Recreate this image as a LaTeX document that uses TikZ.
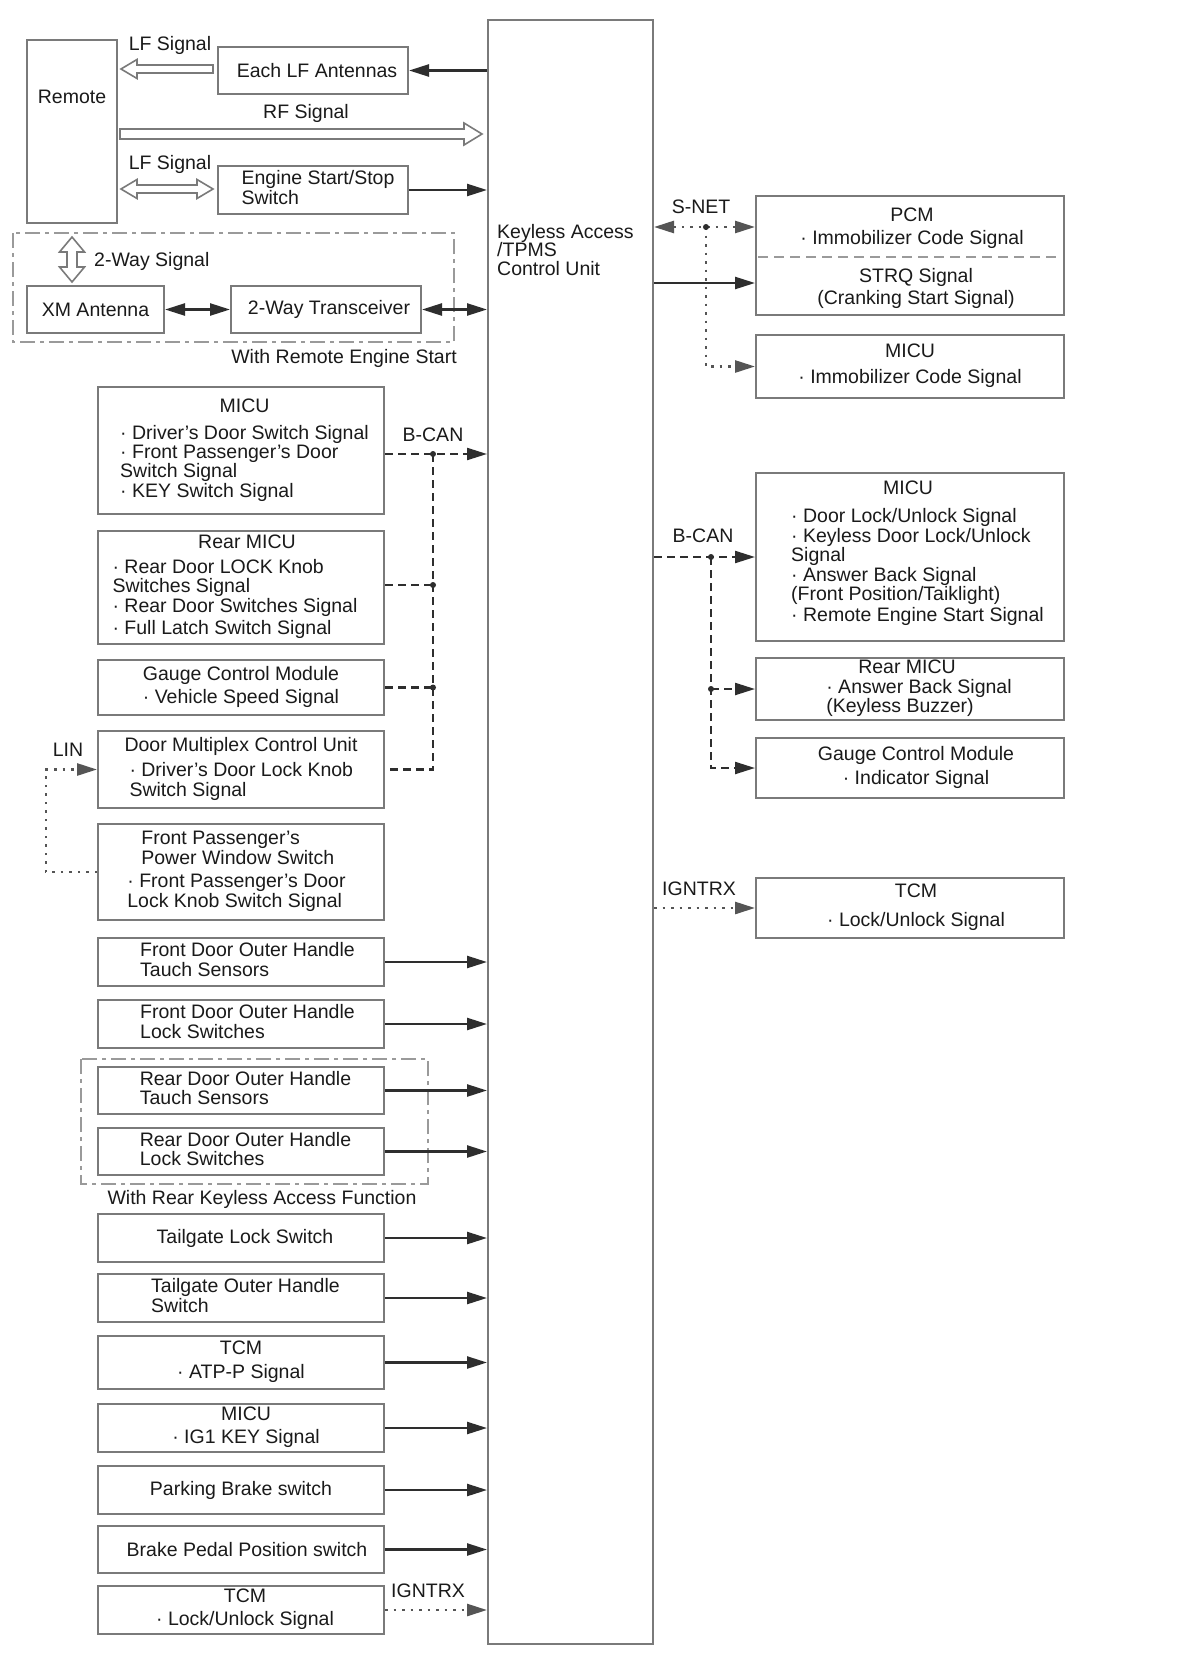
\documentclass[tikz,border=0pt]{standalone}
\usepackage{fontspec}
\setmainfont{Liberation Sans}
\usetikzlibrary{arrows.meta,calc}
\definecolor{bord}{HTML}{7A7A7A}
\definecolor{ln}{HTML}{2E2E2E}
\definecolor{dotc}{HTML}{555555}
\definecolor{dd}{HTML}{9A9A9A}
\definecolor{txt}{HTML}{1A1A1A}
\newcommand{\myLt}[1]{\begin{tabular}{@{}l@{}}#1\end{tabular}}
\newcommand{\myCt}[1]{\begin{tabular}{@{}c@{}}#1\end{tabular}}
\newcommand{\myHd}[1]{\multicolumn{1}{@{}c@{}}{#1}}
\renewcommand{\arraystretch}{0.88}
\tikzset{
  mytri/.tip={Triangle[length=20pt,width=12pt]},
  box/.style={draw=bord, line width=2pt, fill=white, anchor=north west, inner sep=0pt, align=center},
  lbl/.style={inner sep=0pt},
  arr/.style={draw=ln, line width=2.4pt, -mytri},
  barr/.style={draw=ln, line width=2.4pt, mytri-mytri},
  bcan/.style={draw=ln, line width=2.2pt, dash pattern=on 8pt off 5pt},
  sdot/.style={draw=dotc, line width=2.6pt, dash pattern=on 2.5pt off 6pt},
  hol/.style={draw=bord, line width=1.6pt, fill=white, line join=miter},
  grp/.style={draw=dd, line width=2pt, dash pattern=on 15pt off 5pt on 4pt off 5pt},
  divl/.style={draw=dd, line width=2pt, dash pattern=on 10pt off 6pt},
  jdot/.style={fill=ln, draw=none}
}
\begin{document}
\begin{tikzpicture}[x=1pt, y=-1pt, every node/.style={font=\fontsize{19.5}{20}\selectfont, text=txt}]
\useasboundingbox (0,0) rectangle (1200,1656);
\fill[white] (0,0) rectangle (1200,1656);

% central unit
\node[box, minimum width=165, minimum height=1624] (cu) at (487,19) {};
\node[lbl, anchor=north west] (cut) at (497,224) {\myLt{Keyless Access\\[-1pt]/TPMS\\[-1pt]Control Unit}};

% top-left group
\node[box, minimum width=90, minimum height=183] (remote) at (26,39) {};
\node[lbl] (remotet) at (72,97) {Remote};
\node[box, minimum width=190, minimum height=47] (eachlf) at (217,46) {\hspace*{8pt}Each LF Antennas};
\node[box, minimum width=190, minimum height=48] (engine) at (217,165) {\hspace*{10pt}\myLt{Engine Start/Stop\\Switch}};
\draw[grp] (13,233) rectangle (454,342);
\node[box, minimum width=137, minimum height=47] (xm) at (26,285) {XM Antenna};
\node[box, minimum width=190, minimum height=47] (trx) at (230,285) {\hspace*{6pt}2-Way Transceiver};

\node[lbl, anchor=base] (lf1) at (170,51) {LF Signal};
\node[lbl, anchor=base] (rf) at (306,119) {RF Signal};
\node[lbl, anchor=base] (lf2) at (170,170) {LF Signal};
\node[lbl, anchor=base west] (tw) at (94,266) {2-Way Signal};
\node[lbl, anchor=base] (wres) at (344,363) {With Remote Engine Start};

% hollow arrows
\draw[hol] (120,129) -- (464,129) -- (464,123) -- (482,134) -- (464,145) -- (464,139) -- (120,139) -- cycle;
\draw[hol] (213,65) -- (137,65) -- (137,59.5) -- (121,69) -- (137,78.5) -- (137,73) -- (213,73) -- cycle;
\draw[hol] (121,189) -- (137,179.5) -- (137,185) -- (197,185) -- (197,179.5) -- (213,189) -- (197,198.5) -- (197,193) -- (137,193) -- (137,198.5) -- cycle;
\draw[hol] (72,237) -- (84.5,252) -- (77,252) -- (77,267) -- (84.5,267) -- (72,282) -- (59.5,267) -- (67,267) -- (67,252) -- (59.5,252) -- cycle;

\draw[arr] (cu.west |- eachlf.east) -- (eachlf.east);
\draw[arr] (engine.east) -- (engine.east -| cu.west);
\draw[barr] (xm.east) -- (trx.west);
\draw[barr] (trx.east) -- (trx.east -| cu.west);

% right side
\node[box, minimum width=308, minimum height=119] (pcm) at (755,195) {};
\node[lbl] (pcmt) at (912,229) {\myCt{PCM\\[3pt]· Immobilizer Code Signal}};
\node[lbl] (strqt) at (916,289) {\myCt{STRQ Signal\\[2pt](Cranking Start Signal)}};
\draw[divl] (758,257) -- (1060,257);
\node[box, minimum width=308, minimum height=63] (micu1r) at (755,334) {\myCt{MICU\\[7pt]· Immobilizer Code Signal}};
\node[box, minimum width=308, minimum height=168] (micu2r) at (755,472) {\hspace*{15pt}\myLt{\myHd{MICU\hspace*{19pt}}\\[9pt]· Door Lock/Unlock Signal\\· Keyless Door Lock/Unlock\\Signal\\· Answer Back Signal\\(Front Position/Taiklight)\\[2pt]· Remote Engine Start Signal\\[6pt]}};
\node[box, minimum width=308, minimum height=62] (rmicur) at (755,657) {\hspace*{18pt}\myLt{\myHd{Rear MICU\hspace*{24pt}}\\· Answer Back Signal\\(Keyless Buzzer)}};
\node[box, minimum width=308, minimum height=60] (gcmr) at (755,737) {\hspace*{12pt}\myCt{Gauge Control Module\\[5pt]· Indicator Signal}};
\node[box, minimum width=308, minimum height=60] (tcmr) at (755,877) {\hspace*{12pt}\myCt{TCM\\[9pt]· Lock/Unlock Signal}};

\node[lbl, anchor=base] (snet) at (701,213) {S-NET};
\node[lbl, anchor=base] (bcanr) at (703,542) {B-CAN};
\node[lbl, anchor=base] (ignr) at (699,895) {IGNTRX};

\coordinate (sn) at (706,227);
\coordinate (sq) at (700,283);
\coordinate (br) at (711,0);
\draw[sdot, mytri-mytri] (sn -| cu.east) -- (sn -| pcm.west);
\draw[sdot, -mytri] (sn) -- (sn |- micu1r.west) -- (micu1r.west);
\fill[jdot] (sn) circle (3);
\draw[arr] (sq -| cu.east) -- (sq -| pcm.west);
\draw[bcan, -mytri] (micu2r.west -| cu.east) -- (micu2r.west);
\draw[bcan, -mytri] (micu2r.west -| br) -- (gcmr.west -| br) -- (gcmr.west);
\draw[bcan, -mytri] (rmicur.west -| br) -- (rmicur.west);
\fill[jdot] (micu2r.west -| br) circle (3);
\fill[jdot] (rmicur.west -| br) circle (3);
\draw[sdot, -mytri] (tcmr.west -| cu.east) -- (tcmr.west);

% left column
\node[box, minimum width=286, minimum height=127] (micu1l) at (97,386) {\hspace*{7pt}\myLt{\myHd{MICU}\\[8pt]· Driver’s Door Switch Signal\\· Front Passenger’s Door\\Switch Signal\\· KEY Switch Signal}};
\node[box, minimum width=286, minimum height=113] (rmicul) at (97,530) {\myLt{\myHd{\hspace*{24pt}Rear MICU}\\[5pt]· Rear Door LOCK Knob\\Switches Signal\\· Rear Door Switches Signal\\[3pt]· Full Latch Switch Signal}\hspace*{12pt}};
\node[box, minimum width=286, minimum height=55] (gcml) at (97,659) {\myCt{Gauge Control Module\\[4pt]· Vehicle Speed Signal}};
\node[box, minimum width=286, minimum height=77] (dmcu) at (97,730) {\myLt{\myHd{Door Multiplex Control Unit}\\[6pt]\hspace*{5pt}· Driver’s Door Lock Knob\\\hspace*{5pt}Switch Signal}};
\node[box, minimum width=286, minimum height=96] (fpws) at (97,823) {\myLt{\hspace*{14pt}Front Passenger’s\\\hspace*{14pt}Power Window Switch\\[5pt]· Front Passenger’s Door\\Lock Knob Switch Signal}\hspace*{9pt}};
\node[box, minimum width=286, minimum height=48] (fdts) at (97,937) {\hspace*{13pt}\myLt{Front Door Outer Handle\\Tauch Sensors}};
\node[box, minimum width=286, minimum height=48] (fdls) at (97,999) {\hspace*{13pt}\myLt{Front Door Outer Handle\\Lock Switches}};
\draw[grp] (81,1059) rectangle (428,1184);
\node[box, minimum width=286, minimum height=47] (rdts) at (97,1066) {\hspace*{9pt}\myLt{Rear Door Outer Handle\\Tauch Sensors}};
\node[box, minimum width=286, minimum height=47] (rdls) at (97,1127) {\hspace*{9pt}\myLt{Rear Door Outer Handle\\Lock Switches}};
\node[lbl, anchor=base] (wrk) at (262,1204) {With Rear Keyless Access Function};
\node[box, minimum width=286, minimum height=48] (tls) at (97,1213) {\hspace*{8pt}Tailgate Lock Switch};
\node[box, minimum width=286, minimum height=48] (tohs) at (97,1273) {\hspace*{9pt}\myLt{Tailgate Outer Handle\\Switch}};
\node[box, minimum width=286, minimum height=53] (tcml) at (97,1335) {\myCt{TCM\\[5pt]· ATP-P Signal}};
\node[box, minimum width=286, minimum height=48] (micul2) at (97,1403) {\hspace*{10pt}\myCt{MICU\\[4pt]· IG1 KEY Signal}};
\node[box, minimum width=286, minimum height=48] (pbs) at (97,1465) {Parking Brake switch};
\node[box, minimum width=286, minimum height=47] (bpps) at (97,1525) {\hspace*{12pt}Brake Pedal Position switch};
\node[box, minimum width=286, minimum height=48] (tcml2) at (97,1585) {\hspace*{8pt}\myCt{TCM\\[3pt]· Lock/Unlock Signal}};

\node[lbl, anchor=base] (bcanl) at (433,441) {B-CAN};
\node[lbl, anchor=base] (lin) at (68,756) {LIN};
\node[lbl, anchor=base] (ignl) at (428,1597) {IGNTRX};

% left bus
\coordinate (bx) at (433,0);
\coordinate (lx) at (46,0);
\coordinate (b1) at ($(micu1l.east)+(0,3.5)$);
\coordinate (b2) at ($(rmicul.east)+(0,-2.5)$);
\draw[bcan, -mytri] (b1) -- (b1 -| cu.west);
\draw[bcan] (b1 -| bx) -- (dmcu.east -| bx) -- (dmcu.east);
\draw[bcan] (b2) -- (b2 -| bx);
\draw[bcan] (gcml.east) -- (gcml.east -| bx);
\fill[jdot] (b1 -| bx) circle (3);
\fill[jdot] (b2 -| bx) circle (3);
\fill[jdot] (gcml.east -| bx) circle (3);
\draw[sdot, -mytri] (fpws.west) -- (fpws.west -| lx) -- (dmcu.west -| lx) -- (dmcu.west);

\foreach \n in {fdts,fdls,rdts,rdls,tls,tohs,tcml,micul2,pbs,bpps}
  \draw[arr] (\n.east) -- (\n.east -| cu.west);
\draw[sdot, -mytri] (tcml2.east) -- (tcml2.east -| cu.west);
\end{tikzpicture}
\end{document}
